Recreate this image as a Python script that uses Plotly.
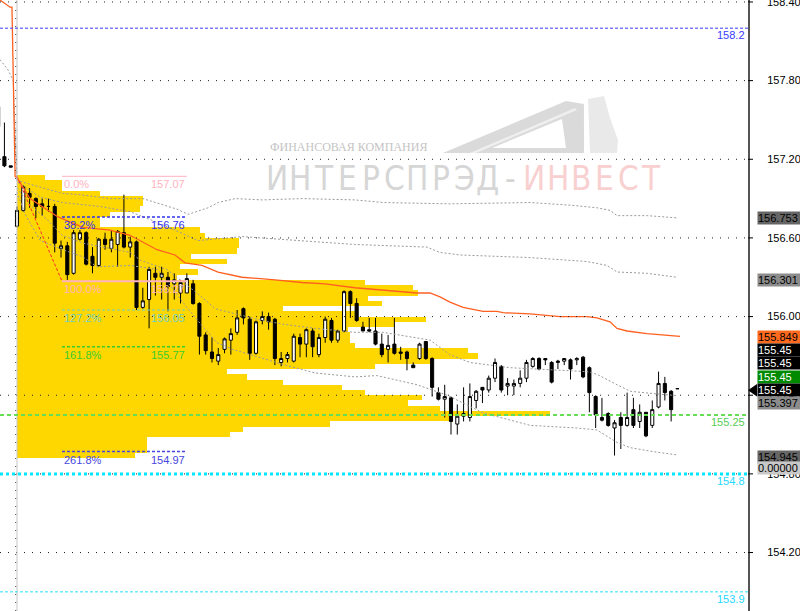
import plotly.graph_objects as go

# ---------------- data ----------------
bar_index = list(range(-3, 106))
opens = [157.60, 157.22, 157.15,
         156.69, 156.81, 156.94, 156.90, 156.86, 156.84, 156.84, 156.52, 156.54, 156.33,
         156.59, 156.64, 156.46, 156.39, 156.59, 156.52, 156.55, 156.64, 156.53, 156.57,
         156.07, 156.13, 156.33, 156.30, 156.30, 156.25, 156.18, 156.18, 156.25, 156.10,
         155.86, 155.73, 155.66, 155.75, 155.82, 155.88, 156.06, 155.98, 155.72, 155.97,
         156.00, 155.98, 155.65, 155.68, 155.66, 155.84, 155.79, 155.89, 155.71, 155.84,
         155.97, 155.82, 155.89, 156.19, 156.10, 155.92, 155.90, 155.89, 155.79, 155.75,
         155.79, 155.73, 155.73, 155.63, 155.68, 155.81, 155.68, 155.42, 155.37, 155.38,
         155.18, 155.24, 155.23, 155.36, 155.46, 155.44, 155.53, 155.62, 155.47, 155.47,
         155.49, 155.53, 155.62, 155.68, 155.68, 155.65, 155.65, 155.66, 155.67, 155.67,
         155.69, 155.61, 155.39, 155.23, 155.26, 155.15, 155.23, 155.17, 155.29, 155.20,
         155.27, 155.17, 155.31, 155.49, 155.43, 155.45]
highs = [157.62, 157.48, 157.15,
         156.84, 157.00, 156.98, 156.91, 156.90, 156.90, 156.86, 156.58, 156.57, 156.66,
         156.66, 156.65, 156.53, 156.60, 156.64, 156.66, 156.66, 156.93, 156.61, 156.58,
         156.22, 156.38, 156.38, 156.38, 156.34, 156.33, 156.28, 156.33, 156.28, 156.11,
         155.88, 155.84, 155.76, 155.84, 155.91, 156.05, 156.07, 156.00, 155.97, 156.04,
         156.03, 155.99, 155.73, 155.73, 155.87, 155.87, 155.91, 155.91, 155.87, 156.00,
         155.99, 155.90, 156.20, 156.20, 156.14, 155.96, 155.99, 155.99, 155.87, 155.86,
         155.99, 155.77, 155.74, 155.65, 155.80, 155.81, 155.69, 155.46, 155.48, 155.39,
         155.33, 155.46, 155.49, 155.44, 155.46, 155.55, 155.68, 155.63, 155.53, 155.52,
         155.59, 155.67, 155.69, 155.69, 155.68, 155.66, 155.67, 155.68, 155.68, 155.69,
         155.70, 155.62, 155.40, 155.38, 155.27, 155.21, 155.27, 155.42, 155.38, 155.33,
         155.27, 155.36, 155.58, 155.54, 155.44, 155.45]
lows = [157.43, 157.14, 157.14,
        156.68, 156.80, 156.83, 156.75, 156.77, 156.80, 156.49, 156.45, 156.28, 156.32,
        156.58, 156.39, 156.33, 156.38, 156.51, 156.49, 156.38, 156.52, 156.45, 156.05,
        156.06, 155.91, 156.16, 156.13, 156.04, 156.13, 156.10, 156.18, 156.09, 155.71,
        155.71, 155.65, 155.63, 155.72, 155.71, 155.86, 155.94, 155.67, 155.71, 155.94,
        155.90, 155.63, 155.62, 155.65, 155.65, 155.69, 155.69, 155.69, 155.69, 155.80,
        155.80, 155.80, 155.88, 155.99, 155.96, 155.89, 155.88, 155.78, 155.69, 155.65,
        155.71, 155.67, 155.59, 155.61, 155.67, 155.67, 155.39, 155.36, 155.23, 155.10,
        155.10, 155.20, 155.20, 155.30, 155.34, 155.42, 155.50, 155.42, 155.40, 155.40,
        155.46, 155.50, 155.61, 155.59, 155.63, 155.49, 155.60, 155.63, 155.52, 155.63,
        155.53, 155.27, 155.15, 155.20, 155.16, 154.94, 154.99, 155.16, 155.15, 155.15,
        155.08, 155.15, 155.30, 155.36, 155.20, 155.45]
closes = [157.45, 157.15, 157.14,
          156.81, 156.99, 156.91, 156.84, 156.84, 156.84, 156.56, 156.54, 156.32, 156.64,
          156.64, 156.40, 156.39, 156.59, 156.55, 156.59, 156.65, 156.53, 156.57, 156.07,
          156.12, 156.36, 156.30, 156.33, 156.23, 156.28, 156.26, 156.29, 156.10, 155.85,
          155.74, 155.68, 155.71, 155.83, 155.87, 155.99, 155.99, 155.72, 155.96, 156.00,
          155.96, 155.68, 155.68, 155.71, 155.85, 155.79, 155.90, 155.77, 155.84, 155.98,
          155.82, 155.89, 156.19, 156.10, 155.97, 155.89, 155.89, 155.79, 155.71, 155.78,
          155.72, 155.72, 155.68, 155.61, 155.79, 155.68, 155.46, 155.37, 155.39, 155.20,
          155.24, 155.26, 155.39, 155.43, 155.44, 155.53, 155.65, 155.44, 155.49, 155.49,
          155.53, 155.65, 155.68, 155.60, 155.67, 155.50, 155.66, 155.68, 155.60, 155.68,
          155.54, 155.42, 155.25, 155.21, 155.17, 155.19, 155.17, 155.23, 155.17, 155.27,
          155.09, 155.29, 155.49, 155.42, 155.29, 155.45]

# VWAP-like orange line
vwap_x = [-2.70, -1.11, -0.80, -0.75, -0.55, -0.45, -0.30, 0.0, 2.07, 5.25, 6.52, 10.49,
          14.79, 17.97, 20.03, 22.26, 25.12, 26.71, 29.41, 31.96, 35.77, 38.95, 41.02,
          45.31, 48.97, 53.74, 58.19, 63.59, 65.66, 67.25, 68.84, 70.91, 74.09, 76.31,
          77.27, 81.56, 86.33, 90.62, 92.21, 94.28, 95.39, 96.98, 100.16, 102.70, 104.29, 105.41]
vwap_y = [158.415, 158.36, 158.36, 158.21, 157.90, 157.40, 157.07, 157.06, 156.90, 156.80,
          156.76, 156.68, 156.66, 156.62, 156.57, 156.51, 156.47, 156.41, 156.39, 156.34,
          156.30, 156.29, 156.28, 156.26, 156.25, 156.22, 156.20, 156.18, 156.18, 156.15,
          156.11, 156.07, 156.04, 156.04, 156.03, 156.02, 156.00, 156.00, 155.99, 155.96,
          155.91, 155.89, 155.87, 155.86, 155.85, 155.849]

# Envelope bands (grey dashed)
band_a_x = [-2.7, -1.4, -0.6, -0.3, 0, 1.3, 7.2, 10.0, 14.8, 20.0, 25.4, 27.2, 30.4, 32.0,
            34.7, 39.0, 45.3, 53.7, 58.2, 68.8, 81.6, 87.9, 92.2, 94.3, 95.4, 100.2, 104.9]
band_a_y = [157.96, 157.88, 157.80, 157.35, 157.04, 157.02, 156.94, 156.93, 156.90, 156.90,
            156.82, 156.78, 156.83, 156.87, 156.90, 156.89, 156.90, 156.89, 156.87, 156.86,
            156.87, 156.85, 156.83, 156.81, 156.77, 156.77, 156.753]
band_b_x = [-0.5, 0, 3.7, 7.2, 13.2, 18.0, 22.7, 25.9, 28.8, 35.8, 45.0, 53.7, 65.2, 67.2,
            70.4, 81.6, 90.6, 93.8, 95.4, 100.2, 104.9]
band_b_y = [157.60, 157.03, 156.91, 156.87, 156.84, 156.80, 156.71, 156.64, 156.58, 156.61,
            156.58, 156.55, 156.53, 156.49, 156.47, 156.45, 156.42, 156.39, 156.34, 156.33, 156.30]
band_c_x = [0, 2.1, 4.8, 7.2, 10.5, 14.8, 18.0, 19.6, 23.8, 27.0, 29.1, 31.5, 36.7, 39.0,
            42.6, 47.4, 53.7, 58.2, 65.7, 68.8, 72.0, 78.4, 90.6, 92.2, 95.4, 97.5, 101.7, 104.9]
band_c_y = [156.98, 156.85, 156.74, 156.62, 156.56, 156.52, 156.49, 156.43, 156.36, 156.24,
            156.16, 156.06, 156.00, 155.97, 155.94, 155.91, 155.88, 155.88, 155.82, 155.71,
            155.65, 155.61, 155.58, 155.56, 155.48, 155.43, 155.41, 155.397]
band_d_x = [0, 1.3, 3.7, 7.3, 10.5, 12.7, 18.0, 22.3, 24.3, 27.0, 29.6, 31.8, 34.3, 39.0,
            42.6, 47.4, 53.7, 57.2, 63.6, 68.4, 74.1, 81.6, 89.0, 92.2, 95.4, 97.5, 101.1, 104.9]
band_d_y = [156.95, 156.78, 156.58, 156.51, 156.455, 156.38, 156.39, 156.36, 156.24, 156.07,
            155.92, 155.80, 155.75, 155.68, 155.63, 155.57, 155.54, 155.55, 155.48, 155.40,
            155.265, 155.17, 155.15, 155.135, 155.04, 155.00, 154.97, 154.945]

# Fibonacci
fib_trend_x = [0, 7.15]
fib_trend_y = [157.07, 156.27]
fib_start, fib_end = 7.15, 27.0
fib_pct = ["0.0%", "38.2%", "100.0%", "127.2%", "161.8%", "261.8%"]
fib_price = [157.07, 156.76, 156.27, 156.05, 155.77, 154.97]
fib_color = ["#ffb3c0", "#3232f0", "#ffb3c0", "#6fcfc4", "#3ccc2c", "#4646e0"]
fib_dash = ["solid", "3px,2px", "solid", "3px,2px", "3px,2px", "3px,2px"]
fib_width = [1, 1.5, 2, 1, 1.5, 1.5]

# Volume profile (price level, volume)
profile_price = [157.06, 157.02, 156.98, 156.94, 156.90, 156.86, 156.82, 156.78, 156.74,
                 156.70, 156.66, 156.62, 156.58, 156.54, 156.50, 156.46, 156.42, 156.38,
                 156.34, 156.30, 156.26, 156.22, 156.18, 156.14, 156.10, 156.06, 156.02,
                 155.98, 155.94, 155.90, 155.86, 155.82, 155.78, 155.74, 155.70, 155.66,
                 155.62, 155.58, 155.54, 155.50, 155.46, 155.42, 155.38, 155.34, 155.30,
                 155.26, 155.22, 155.18, 155.14, 155.10, 155.06, 155.02, 154.98, 154.94]
profile_volume = [28, 45, 45, 83, 126, 126, 123, 93, 83, 83, 183, 188, 222, 222, 220, 174,
                  210, 163, 181, 160, 348, 396, 401, 351, 365, 266, 338, 409, 378, 331, 333,
                  333, 338, 451, 461, 413, 358, 210, 230, 266, 325, 348, 405, 391, 423, 533,
                  433, 313, 226, 213, 130, 130, 130, 118]

# Horizontal levels across the chart
level_price = [158.2, 155.25, 154.8, 153.9]
level_text = ["158.2", "155.25", "154.8", "153.9"]
level_color = ["#3a3aff", "#66dd55", "#00e8ff", "#22e0ff"]
level_text_color = ["#3a3aff", "#55cc55", "#22d8ff", "#22d8ff"]
level_dash = ["3px,2px", "4px,3px", "3px,3px", "3px,2px"]
level_width = [1, 2, 3, 1]

# Right-side price tags
tag_value = [156.753, 156.301, 155.849, 155.45, 155.45, 155.45, 155.45, 155.397, 154.945, 154.8]
tag_text = ["156.753", "156.301", "155.849", "155.45", "155.45", "155.45", "155.45",
            "155.397", "154.945", "0.00000"]
tag_bg = ["#666666", "#8c8c8c", "#ff6a1f", "#000000", "#000000", "#008a00", "#000000",
          "#8c8c8c", "#666666", "#c8c8c8"]
tag_fg = ["#000000", "#000000", "#000000", "#ffffff", "#ffffff", "#ffffff", "#ffffff",
          "#000000", "#000000", "#000000"]
tag_shift = [0, -2.5, -1, 38.5, 25.5, 12, -1.5, -7, -2, 6]

grid_vals = [154.2, 154.8, 155.4, 156.0, 156.6, 157.2, 157.8, 158.4]
tick_vals = [154.2, 154.8, 155.4, 156.0, 156.6, 157.2, 157.8]
tick_text = ["154.20", "154.80", "155.40", "156.00", "156.60", "157.20", "157.80"]
top_tick_val, top_tick_text = 158.4, "158.40"

# ---------------- figure ----------------
W, H = 800, 611
PLOT_W = 748
FONT = "Liberation Sans, Arial, sans-serif"

fig = go.Figure()

fig.add_trace(go.Bar(
    y=profile_price, x=profile_volume, base=0, orientation="h", width=0.04,
    marker=dict(color="#FFD700", line=dict(width=0)), xaxis="x", yaxis="y",
    hoverinfo="skip", showlegend=False))

band_style = dict(color="#9a9a9a", width=1, dash="2px,2px")
for bx, by in [(band_a_x, band_a_y), (band_b_x, band_b_y), (band_c_x, band_c_y), (band_d_x, band_d_y)]:
    fig.add_trace(go.Scatter(x=bx, y=by, mode="lines", line=band_style, xaxis="x2",
                             yaxis="y", hoverinfo="skip", showlegend=False))

fig.add_trace(go.Scatter(x=vwap_x, y=vwap_y, mode="lines",
                         line=dict(color="#ff6020", width=1.3), xaxis="x2", yaxis="y",
                         hoverinfo="skip", showlegend=False))
fig.add_trace(go.Scatter(x=fib_trend_x, y=fib_trend_y, mode="lines",
                         line=dict(color="#ff2a2a", width=1, dash="3px,2px"), xaxis="x2",
                         yaxis="y", hoverinfo="skip", showlegend=False))

for p, c, d, w in zip(fib_price, fib_color, fib_dash, fib_width):
    fig.add_trace(go.Scatter(x=[fib_start, fib_end], y=[p, p], mode="lines",
                             line=dict(color=c, width=w, dash=d), xaxis="x2", yaxis="y",
                             hoverinfo="skip", showlegend=False))

fig.add_trace(go.Candlestick(
    x=bar_index, open=opens, high=highs, low=lows, close=closes,
    increasing=dict(line=dict(color="#000000", width=1), fillcolor="#ffffff"),
    decreasing=dict(line=dict(color="#000000", width=1), fillcolor="#000000"),
    whiskerwidth=0, xaxis="x2", yaxis="y", hoverinfo="skip", showlegend=False))

shapes = []
# dotted grid and small tick marks on the price scale
for v in grid_vals:
    shapes.append(dict(type="line", xref="paper", yref="y", x0=0, x1=1, y0=v, y1=v,
                       line=dict(color="#202020", width=1, dash="1px,7px"), layer="above"))
    shapes.append(dict(type="line", xref="paper", yref="y", x0=1, x1=1 + 5 / PLOT_W,
                       y0=v, y1=v, line=dict(color="#000000", width=1), layer="above"))
# session separator
shapes.append(dict(type="line", xref="x2", yref="paper", x0=-0.2, x1=-0.2, y0=0, y1=1,
                   line=dict(color="#333333", width=1, dash="1px,7px")))
shapes.append(dict(type="line", xref="x2", yref="paper", x0=0.0, x1=0.0, y0=0, y1=1,
                   line=dict(color="#c4c4c4", width=1)))
# level lines
for p, c, d, w in zip(level_price, level_color, level_dash, level_width):
    shapes.append(dict(type="line", xref="paper", yref="y", x0=0, x1=1, y0=p, y1=p,
                       line=dict(color=c, width=w, dash=d), layer="above"))
# arrow to current price
cur = tag_value[6]
shapes.append(dict(type="path", xref="paper", yref="y",
                   path=f"M 1.0,{cur - 0.012} L 1.012,{cur + 0.035} L 1.012,{cur - 0.06} Z",
                   fillcolor="#000000", line=dict(width=0), layer="above"))


def px(x, y):
    return x / PLOT_W, 1 - y / H


def poly(points):
    pts = [px(x, y) for x, y in points]
    return "M " + " L ".join(f"{a:.4f},{b:.4f}" for a, b in pts) + " Z"


# watermark logo
shapes.append(dict(type="path", xref="paper", yref="paper", layer="above",
                   path=poly([(443, 153), (566, 101), (584, 104), (584, 153)]),
                   fillcolor="#dadada", line=dict(width=0)))
shapes.append(dict(type="path", xref="paper", yref="paper", layer="above",
                   path=poly([(492, 148), (562, 119), (566, 148)]),
                   fillcolor="#ffffff", line=dict(width=0)))
shapes.append(dict(type="path", xref="paper", yref="paper", layer="above",
                   path=poly([(470, 153), (575, 108), (577, 110), (476, 153)]),
                   fillcolor="#efefef", line=dict(width=0)))
shapes.append(dict(type="path", xref="paper", yref="paper", layer="above",
                   path=poly([(588, 99), (604, 96), (610, 118), (618, 140), (617, 153), (590, 153)]),
                   fillcolor="#e9e9e9", line=dict(width=0)))

annotations = []
# top price-scale label (sits half outside the page, as in the terminal)
annotations.append(dict(x=1, y=top_tick_val, xref="paper", yref="y", text=top_tick_text,
                        showarrow=False, xanchor="left", yanchor="middle", xshift=17,
                        font=dict(family=FONT, size=11, color="#000000")))
# fib labels
for t, p, c in zip(fib_pct, fib_price, fib_color):
    annotations.append(dict(x=fib_start, y=p, xref="x2", yref="y", text=t, showarrow=False,
                            xanchor="left", yanchor="middle", yshift=-8,
                            font=dict(family=FONT, size=11, color=c)))
    annotations.append(dict(x=fib_end, y=p, xref="x2", yref="y", text=f"{p:.2f}",
                            showarrow=False, xanchor="right", yanchor="middle", yshift=-8,
                            font=dict(family=FONT, size=11, color=c)))
# level labels
for t, p, c in zip(level_text, level_price, level_text_color):
    annotations.append(dict(x=1, y=p, xref="paper", yref="y", text=t, showarrow=False,
                            xanchor="right", yanchor="middle", xshift=-1, yshift=-7,
                            font=dict(family=FONT, size=11, color=c)))
# price tags
for v, t, bg, fg, s in zip(tag_value, tag_text, tag_bg, tag_fg, tag_shift):
    annotations.append(dict(x=1, y=v, xref="paper", yref="y", text=t, showarrow=False,
                            xanchor="left", yanchor="middle", xshift=9, yshift=s,
                            width=46, height=12, align="left", bgcolor=bg, borderpad=0,
                            font=dict(family=FONT, size=11, color=fg)))
# watermark text
x0, y0 = px(268, 147)
annotations.append(dict(x=x0, y=y0, xref="paper", yref="paper", text="ФИНАНСОВАЯ КОМПАНИЯ",
                        showarrow=False, xanchor="left", yanchor="middle",
                        font=dict(family="Liberation Serif, DejaVu Serif, serif", size=12,
                                  color="#c4c4c4")))
brand = "ИНТЕРСПРЭД-ИНВЕСТ"
for k, ch in enumerate(brand):
    cx, cy = px(277 + 23.4 * k, 178)
    annotations.append(dict(x=cx, y=cy, xref="paper", yref="paper", text=ch, showarrow=False,
                            xanchor="center", yanchor="middle",
                            font=dict(family="Liberation Sans Narrow, DejaVu Sans Condensed, sans-serif",
                                      size=33, color="#d6d6d6" if k < 11 else "#f9d0d0")))

fig.update_layout(
    width=W, height=H,
    margin=dict(l=0, r=W - PLOT_W, t=0, b=0),
    paper_bgcolor="#ffffff", plot_bgcolor="#ffffff",
    barmode="overlay", bargap=0, showlegend=False,
    xaxis=dict(range=[-17, PLOT_W - 17], visible=False, fixedrange=True,
               rangeslider=dict(visible=False)),
    xaxis2=dict(range=[-2.703, 116.22], overlaying="x", visible=False, fixedrange=True,
                rangeslider=dict(visible=False)),
    yaxis=dict(range=[153.754, 158.415], side="right", showgrid=False, zeroline=False,
               tickvals=tick_vals, ticktext=tick_text, ticks="outside", ticklen=15,
               tickcolor="rgba(0,0,0,0)", showline=True, linecolor="#555555", linewidth=2,
               tickfont=dict(family=FONT, size=11, color="#000000"), fixedrange=True),
    shapes=shapes, annotations=annotations,
)

fig.write_html("out.html", config={"displayModeBar": False},
               post_script="document.body.style.margin='0px';document.body.style.padding='0px';"
                           "document.body.style.overflow='hidden';")
